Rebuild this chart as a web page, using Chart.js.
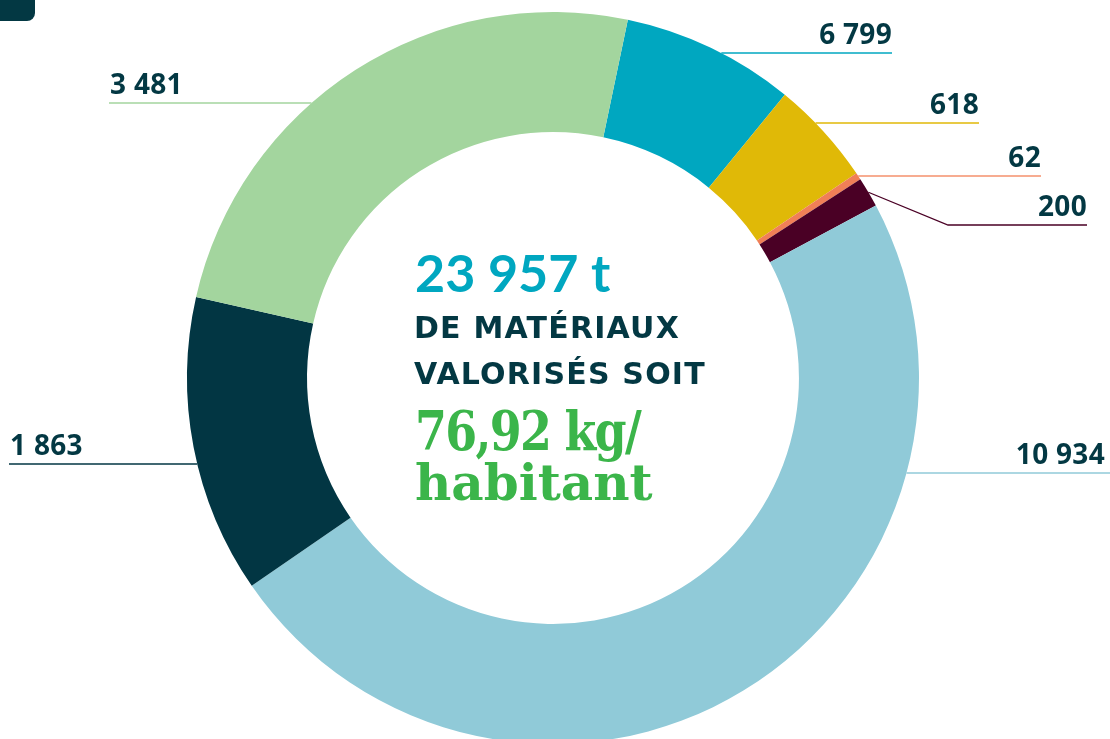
<!DOCTYPE html>
<html lang="fr">
<head>
<meta charset="utf-8">
<title>Matériaux valorisés</title>
<script src="https://cdn.jsdelivr.net/npm/chart.js@4/dist/chart.umd.min.js"></script>
<style>
  html, body { margin: 0; padding: 0; background: #ffffff; overflow: hidden; }
  #wrap { position: absolute; left: 0; top: 0; width: 1110px; height: 760px; }
  #tab { position: absolute; left: 0; top: 0; width: 35px; height: 21px;
         background: #033843; border-bottom-right-radius: 8px; }
</style>
</head>
<body>
<div id="tab"></div>
<div id="wrap"><canvas id="donutChart"></canvas></div>
<script>
// printed tonnages, clockwise from the top
const tonnages = [6799, 618, 62, 200, 10934, 1863, 3481];
// the drawn slices do not follow the printed figures, so their size
// is read off the picture (degrees of the ring)
const sliceDegrees = [27.5, 16.7, 1.1, 4.8, 173.5, 47.4, 89.0];
const sliceColors = ["#00a7c0", "#e0b907", "#f07f57", "#4a0025", "#90cad8", "#023643", "#a3d59e"];
const lineColors = ["#00a7c0", "#e0b907", "#f4906c", "#4a0025", "#90cad8", "#023643", "#a3d59e"];
const totalText = "23 957 t";
const perHead = ["76,92 kg/", "habitant"];
const caption = ["DE MATÉRIAUX", "VALORISÉS SOIT"];

function formatT(n) {
    return String(n).replace(/\B(?=(\d{3})+(?!\d))/g, " ");
}

// leader lines: y of the horizontal line, x where it ends
const leaders = [
    { side: "right", lineY: 53, endX: 892 },
    { side: "right", lineY: 123, endX: 979 },
    { side: "right", lineY: 176, endX: 1041 },
    { side: "right", lineY: 225, endX: 1087, elbowX: 948 },
    { side: "right", lineY: 473, endX: 1110, textX: 1105 },
    { side: "left", lineY: 464, endX: 9 },
    { side: "left", lineY: 103, endX: 109 }
];

const leaderPlugin = {
    id: "leaders",
    afterDatasetsDraw(chart) {
        const ctx = chart.ctx;
        const arcs = chart.getDatasetMeta(0).data;
        ctx.save();
        arcs.forEach((arc, i) => {
            const L = leaders[i];
            const p = arc.getProps(["x", "y", "outerRadius", "startAngle", "endAngle"], true);
            const R = p.outerRadius;
            ctx.strokeStyle = lineColors[i];
            ctx.lineWidth = 1.3;
            ctx.beginPath();
            if (L.elbowX) {
                const mid = (p.startAngle + p.endAngle) / 2;
                ctx.moveTo(p.x + Math.cos(mid) * R, p.y + Math.sin(mid) * R);
                ctx.lineTo(L.elbowX, L.lineY);
            } else {
                const dy = L.lineY - p.y;
                const dx = Math.sqrt(R * R - dy * dy);
                ctx.moveTo(L.side === "right" ? p.x + dx : p.x - dx, L.lineY);
            }
            ctx.lineTo(L.endX, L.lineY);
            ctx.stroke();

            ctx.fillStyle = "#033843";
            ctx.font = "bold 28px 'Noto Sans'";
            ctx.letterSpacing = "0.3px";
            ctx.textBaseline = "alphabetic";
            ctx.textAlign = L.side === "right" ? "right" : "left";
            const tx = L.textX || (L.side === "right" ? L.endX : L.endX + 1);
            ctx.fillText(formatT(tonnages[i]), tx, L.lineY - 9);
        });

        // centre text
        ctx.textAlign = "left";
        ctx.fillStyle = "#00a7c0";
        ctx.font = "bold 52px Lato";
        ctx.letterSpacing = "0px";
        ctx.fillText(totalText, 415, 292);

        ctx.fillStyle = "#033843";
        ctx.font = "bold 30px 'DejaVu Sans'";
        ctx.letterSpacing = "1.2px";
        ctx.fillText(caption[0], 414, 338);
        ctx.fillText(caption[1], 414, 384);

        ctx.fillStyle = "#3bb54a";
        ctx.font = "bold 54px 'DejaVu Serif'";
        ctx.letterSpacing = "-2px";
        ctx.save();
        ctx.translate(415, 450);
        ctx.scale(0.85, 1);
        ctx.fillText(perHead[0], 0, 0);
        ctx.restore();
        ctx.font = "bold 50px 'DejaVu Serif'";
        ctx.letterSpacing = "0px";
        ctx.fillText(perHead[1], 415, 500);
        ctx.restore();
    }
};

new Chart(
    document.getElementById("donutChart"),
    {
        type: "doughnut",
        data: {
            labels: tonnages.map(formatT),
            datasets: [
                {
                    data: sliceDegrees,
                    backgroundColor: sliceColors,
                    borderWidth: 0,
                    hoverOffset: 0
                }
            ]
        },
        options: {
            responsive: true,
            maintainAspectRatio: false,
            animation: false,
            events: [],
            rotation: 11.8,
            cutout: "67.2%",
            layout: {
                padding: { left: 187, right: 191, top: 12, bottom: 16 }
            },
            plugins: {
                legend: { display: false },
                tooltip: { enabled: false }
            }
        },
        plugins: [leaderPlugin]
    }
);
</script>
</body>
</html>
